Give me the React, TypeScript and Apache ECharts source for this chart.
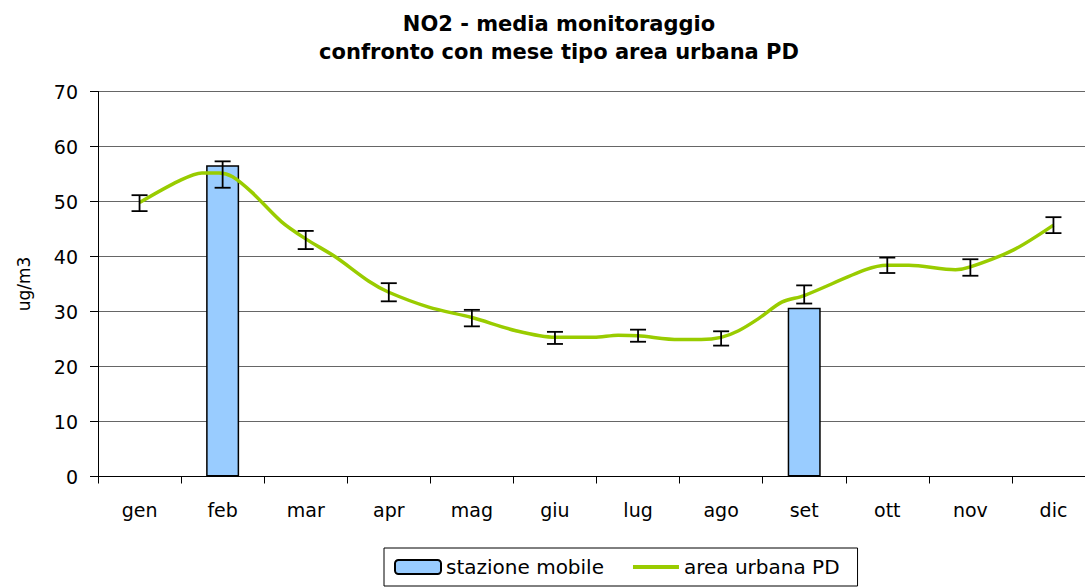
import React, { useEffect, useRef } from "react";
import * as echarts from "echarts";

const months = ["gen", "feb", "mar", "apr", "mag", "giu", "lug", "ago", "set", "ott", "nov", "dic"];
const stazioneMobile: (number | string)[] = ["-", 56.6, "-", "-", "-", "-", "-", "-", 30.7, "-", "-", "-"];
const errCenter = [49.7, 54.9, 43.0, 33.5, 28.8, 25.2, 25.6, 25.1, 33.1, 38.4, 38.0, 45.7];
const errHalf = [1.45, 2.4, 1.65, 1.65, 1.5, 1.1, 1.1, 1.3, 1.65, 1.4, 1.5, 1.45];
const lineX = [0, 0.47, 0.75, 0.96, 1.12, 1.35, 1.71, 2, 2.36, 2.76, 3, 3.48, 4, 4.53, 5, 5.47, 5.76, 6, 6.49, 6.76, 7, 7.21, 7.45, 7.73, 8, 8.74, 9, 9.26, 9.82, 10, 10.52, 11];
const lineY = [49.8, 53.7, 55.2, 55.2, 54.5, 51.7, 46.3, 43.2, 39.9, 35.5, 33.5, 30.8, 28.9, 26.5, 25.3, 25.3, 25.7, 25.6, 24.9, 24.9, 25.3, 26.5, 28.7, 31.7, 32.9, 37.6, 38.4, 38.4, 37.6, 38.1, 41.2, 45.7];
const yTicks = { min: 0, max: 70, interval: 10 };
const titleLines = ["NO2 - media monitoraggio", "confronto con mese tipo area urbana PD"];

const FONT = "DejaVu Sans, Arial, sans-serif";

export default function App() {
  const ref = useRef<HTMLDivElement>(null);
  useEffect(() => {
    if (!ref.current) return;
    const chart = echarts.init(ref.current, undefined, { renderer: "svg" });
    const errData = errCenter.map((c, i) => [i, c - errHalf[i], c + errHalf[i]]);
    const lineData = lineX.map((x, i) => [x, lineY[i]]);
    chart.setOption({
      animation: false,
      backgroundColor: "#fff",
      textStyle: { fontFamily: FONT },
      graphic: [
        {
          type: "text",
          x: 559,
          y: 10,
          style: {
            text: titleLines.join("\n"),
            font: "bold 21px " + FONT,
            fill: "#000",
            textAlign: "center",
            lineHeight: 28,
          },
        },
      ],
      legend: {
        left: 384,
        top: 548,
        padding: [9, 18, 9, 10],
        itemGap: 27,
        itemWidth: 46,
        itemHeight: 14,
        borderColor: "#000",
        borderWidth: 1,
        borderRadius: 0,
        textStyle: { fontSize: 20, color: "#000", fontFamily: FONT },
        data: [
          { name: "stazione mobile" },
          { name: "area urbana PD", itemStyle: { opacity: 0 }, lineStyle: { color: "#99CC00", width: 4 } },
        ],
      },
      grid: { left: 98, top: 91.5, width: 997, height: 385 },
      xAxis: [
        {
          type: "category",
          data: months,
          axisLine: { lineStyle: { color: "#000", width: 1 } },
          axisTick: { show: true, length: 7, lineStyle: { color: "#000" } },
          axisLabel: { fontSize: 19, color: "#000", margin: 24, fontFamily: FONT },
          splitLine: { show: false },
        },
        {
          type: "value",
          min: -0.5,
          max: 11.5,
          show: false,
          splitLine: { show: false },
        },
      ],
      yAxis: {
        type: "value",
        min: yTicks.min,
        max: yTicks.max,
        interval: yTicks.interval,
        name: "ug/m3",
        nameLocation: "middle",
        nameGap: 66,
        nameRotate: 90,
        nameTextStyle: { fontSize: 17, color: "#000", fontFamily: FONT },
        axisLine: { show: true, onZero: false, lineStyle: { color: "#000" } },
        axisTick: { show: true, length: 8, lineStyle: { color: "#000" } },
        axisLabel: { fontSize: 19, color: "#000", margin: 20, fontFamily: FONT },
        splitLine: { show: true, lineStyle: { color: "#666", width: 1 } },
      },
      series: [
        {
          name: "stazione mobile",
          type: "bar",
          data: stazioneMobile,
          barWidth: 33,
          itemStyle: { color: "#99CCFF", borderColor: "#000", borderWidth: 1.5 },
          z: 2,
        },
        {
          name: "area urbana PD",
          type: "line",
          xAxisIndex: 1,
          data: lineData,
          smooth: 0.3,
          symbol: "none",
          showSymbol: false,
          lineStyle: { color: "#99CC00", width: 3.5 },
          itemStyle: { color: "#99CC00" },
          z: 3,
        },
        {
          name: "errori",
          type: "custom",
          data: errData,
          z: 4,
          renderItem: (params: any, api: any) => {
            const i = api.value(0);
            const lo = api.coord([i, api.value(1)]);
            const hi = api.coord([i, api.value(2)]);
            const w = 8;
            const style = { stroke: "#000", lineWidth: 1.8 };
            return {
              type: "group",
              children: [
                { type: "line", shape: { x1: lo[0], y1: lo[1], x2: hi[0], y2: hi[1] }, style },
                { type: "line", shape: { x1: hi[0] - w, y1: hi[1], x2: hi[0] + w, y2: hi[1] }, style },
                { type: "line", shape: { x1: lo[0] - w, y1: lo[1], x2: lo[0] + w, y2: lo[1] }, style },
              ],
            };
          },
        },
      ],
    });
    return () => chart.dispose();
  }, []);
  return (
    <div style={{ position: "fixed", left: 0, top: 0, width: 1085, height: 587, overflow: "hidden", background: "#fff" }}>
      <div ref={ref} style={{ width: 1110, height: 587 }} />
    </div>
  );
}
